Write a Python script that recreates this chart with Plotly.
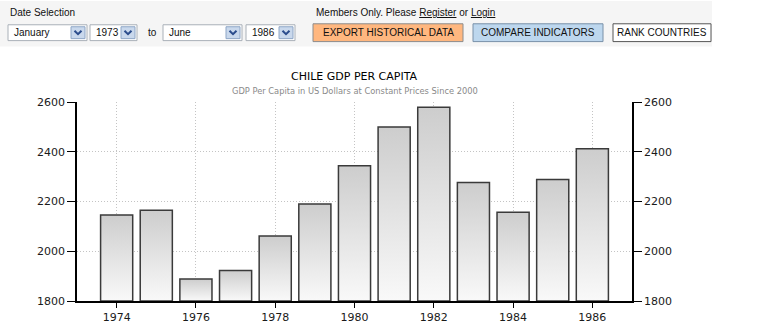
import plotly.graph_objects as go

# Chile GDP per capita (constant 2000 US$)
years = [1974, 1975, 1976, 1977, 1978, 1979, 1980, 1981, 1982, 1983, 1984, 1985, 1986]
gdp_per_capita = [2146, 2165, 1888, 1923, 2061, 2190, 2344, 2499, 2579, 2276, 2157, 2288, 2412]
y_ticks = [1800, 2000, 2200, 2400, 2600]
x_ticks = [1974, 1976, 1978, 1980, 1982, 1984, 1986]

title_text = "CHILE GDP PER CAPITA"
subtitle_text = "GDP Per Capita in US Dollars at Constant Prices Since 2000"

dropdowns = [("January", 8, 87), ("1973", 90, 137), ("June", 163, 242), ("1986", 246, 295)]
buttons = [
    ("EXPORT HISTORICAL DATA", 313, 463, "#ffb77f", "#8c8c8c"),
    ("COMPARE INDICATORS", 473, 603, "#bdd7ee", "#7890a8"),
    ("RANK COUNTRIES", 613, 711, "#ffffff", "#555555"),
]

# figure geometry in pixels
FIG_W, FIG_H = 781, 336
L, R, T, B = 77, 149, 102, 33
PW, PH = FIG_W - L - R, FIG_H - T - B
BAR_HALF = 0.405


def px(x):
    return (x - L) / PW


def py(y):
    return (FIG_H - B - y) / PH


fig = go.Figure()

# bars drawn as filled polygons so each one gets a vertical gradient
for yr, val in zip(years, gdp_per_capita):
    fig.add_trace(go.Scatter(
        x=[yr - BAR_HALF, yr - BAR_HALF, yr + BAR_HALF, yr + BAR_HALF, yr - BAR_HALF],
        y=[y_ticks[0], val, val, y_ticks[0], y_ticks[0]],
        mode="lines",
        fill="toself",
        fillgradient=dict(type="vertical",
                          colorscale=[[0, "#f9f9f9"], [1, "#cdcdcd"]]),
        line=dict(color="#3a3a3a", width=1.5),
        hoverinfo="text",
        text=f"{yr}: {val}",
        showlegend=False,
    ))

# carrier for the right-hand axis
fig.add_trace(go.Scatter(
    x=years, y=gdp_per_capita, yaxis="y2", mode="markers",
    marker=dict(opacity=0), hoverinfo="skip", showlegend=False,
))

tick_font = dict(family="DejaVu Sans", size=11, color="#1a1a1a")
grid = dict(showgrid=True, gridcolor="#c4c4c4", griddash="1px,2px", gridwidth=1)

fig.update_layout(
    width=FIG_W, height=FIG_H,
    margin=dict(l=L, r=R, t=T, b=B, pad=0),
    paper_bgcolor="#ffffff",
    plot_bgcolor="#ffffff",
    xaxis=dict(
        range=[1973, 1987], tickvals=x_ticks, ticktext=[str(v) for v in x_ticks],
        **grid,
        showline=True, linecolor="#000000", linewidth=1.5,
        ticks="outside", ticklen=5, tickcolor="#000000", tickwidth=1,
        tickfont=tick_font, zeroline=False, fixedrange=True,
    ),
    yaxis=dict(
        range=[y_ticks[0], y_ticks[-1]], tickvals=y_ticks,
        **grid,
        showline=True, linecolor="#000000", linewidth=1.5,
        ticks="outside", ticklen=8, tickcolor="#000000", tickwidth=1,
        tickfont=tick_font, zeroline=False, fixedrange=True,
    ),
    yaxis2=dict(
        range=[y_ticks[0], y_ticks[-1]], tickvals=y_ticks,
        overlaying="y", side="right", showgrid=False,
        showline=True, linecolor="#000000", linewidth=1.5,
        ticks="outside", ticklen=8, tickcolor="#000000", tickwidth=1,
        tickfont=tick_font, zeroline=False, fixedrange=True,
    ),
)

shapes = []
annotations = []

# header panel
shapes.append(dict(type="rect", xref="paper", yref="paper",
                   x0=px(0), x1=px(712), y0=py(0), y1=py(46),
                   fillcolor="#f5f5f5", line=dict(width=0), layer="below"))

ui_font = dict(family="Liberation Sans", size=10, color="#111111")

annotations.append(dict(text="Date Selection", xref="paper", yref="paper",
                        x=px(8), y=py(12), xanchor="left", yanchor="middle",
                        showarrow=False, font=ui_font))
annotations.append(dict(text="Members Only. Please <u>Register</u> or <u>Login</u>",
                        xref="paper", yref="paper",
                        x=px(314), y=py(12), xanchor="left", yanchor="middle",
                        showarrow=False, font=ui_font))

# date dropdowns
for label, x0, x1 in dropdowns:
    shapes.append(dict(type="rect", xref="paper", yref="paper",
                       x0=px(x0), x1=px(x1), y0=py(24), y1=py(40),
                       fillcolor="#ffffff", line=dict(color="#a9b0b8", width=1)))
    ax0, ax1 = x1 - 16, x1 - 2
    shapes.append(dict(type="rect", xref="paper", yref="paper",
                       x0=px(ax0), x1=px(ax1), y0=py(26), y1=py(38),
                       fillcolor="#c9d8ec", line=dict(color="#8ea6c6", width=1)))
    cx, cy = (ax0 + ax1) / 2, 32
    shapes.append(dict(type="path", xref="paper", yref="paper",
                       path=f"M {px(cx - 3.5)} {py(cy - 2)} L {px(cx)} {py(cy + 1.5)} L {px(cx + 3.5)} {py(cy - 2)}",
                       line=dict(color="#2b4c8c", width=2)))
    annotations.append(dict(text=label, xref="paper", yref="paper",
                            x=px(x0 + 4), y=py(32), xanchor="left", yanchor="middle",
                            showarrow=False, font=ui_font))

annotations.append(dict(text="to", xref="paper", yref="paper",
                        x=px(146), y=py(32), xanchor="left", yanchor="middle",
                        showarrow=False, font=ui_font))

# action buttons
for label, x0, x1, fill, edge in buttons:
    shapes.append(dict(type="rect", xref="paper", yref="paper",
                       x0=px(x0), x1=px(x1), y0=py(23), y1=py(41),
                       fillcolor=fill, line=dict(color=edge, width=1)))
    annotations.append(dict(text=label, xref="paper", yref="paper",
                            x=px((x0 + x1) / 2), y=py(32), xanchor="center", yanchor="middle",
                            showarrow=False, font=ui_font))

# chart titles
annotations.append(dict(text=title_text, xref="paper", yref="paper",
                        x=0.5, y=py(76), xanchor="center", yanchor="middle",
                        showarrow=False,
                        font=dict(family="DejaVu Sans", size=11, color="#000000")))
annotations.append(dict(text=subtitle_text, xref="paper", yref="paper",
                        x=0.5, y=py(91), xanchor="center", yanchor="middle",
                        showarrow=False,
                        font=dict(family="DejaVu Sans", size=8.3, color="#8a8a8a")))

fig.update_layout(shapes=shapes, annotations=annotations)

fig.write_html("out.html", config={"displayModeBar": False})
